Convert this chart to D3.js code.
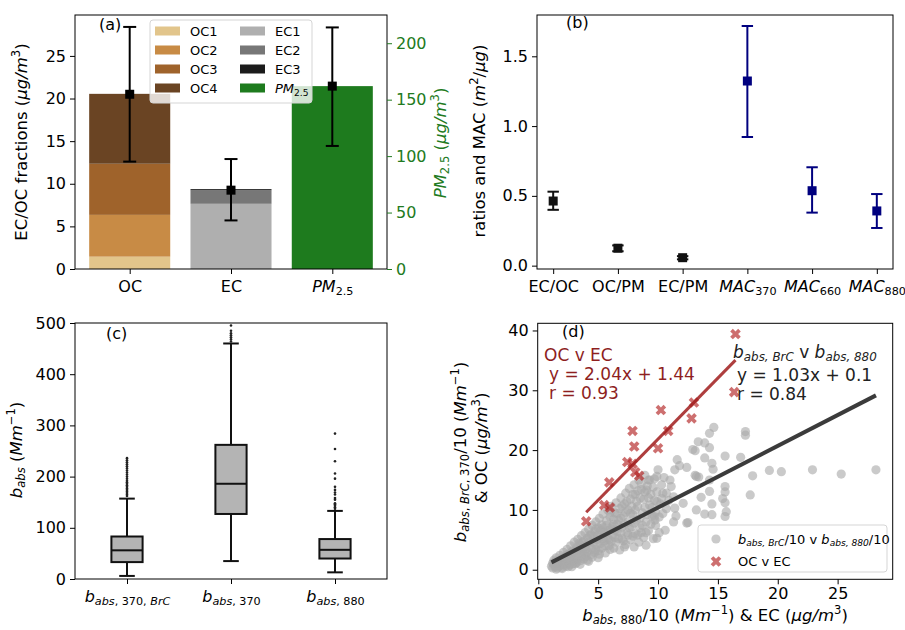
<!DOCTYPE html>
<html>
<head>
<meta charset="utf-8">
<script src="https://cdn.jsdelivr.net/npm/d3@7"></script>
<style>
  body { margin: 0; background: #fff; }
  text { font-family: "DejaVu Sans", sans-serif; white-space: pre; }
</style>
</head>
<body>
<div id="fig"></div>
<script>
// ---- panel (a): OC / EC fractions and PM2.5
const ocParts = ["OC1", "OC2", "OC3", "OC4"];
const ocVals = [1.45, 4.9, 6.0, 8.2];
const ocColors = ["#e2c58b", "#c88b45", "#9f632b", "#6a4423"];
const ecParts = ["EC1", "EC2", "EC3"];
const ecVals = [7.65, 1.6, 0.12];
const ecColors = ["#afafaf", "#777777", "#1b1b1b"];
const pmVal = 162;
const pmColor = "#1e7b1e";
const barMean = [20.5, 9.25, 162];
const barLow = [12.6, 5.7, 109];
const barHigh = [28.4, 12.9, 214];

// ---- panel (b): ratios and MAC
const ratioCats = ["EC/OC", "OC/PM", "EC/PM", "MAC370", "MAC660", "MAC880"];
const ratioMean = [0.463, 0.125, 0.057, 1.323, 0.537, 0.392];
const ratioLow = [0.40, 0.103, 0.045, 0.922, 0.38, 0.27];
const ratioHigh = [0.53, 0.145, 0.068, 1.717, 0.705, 0.513];

// ---- panel (c): absorption box plots
const boxLo = [6, 35, 13];
const boxQ1 = [33, 127, 40];
const boxMed = [56, 186, 57];
const boxQ3 = [83, 262, 78];
const boxHi = [157, 460, 133];
const fliersBrc = [162, 165, 168, 171, 174, 177, 180, 183, 186, 189, 192, 196, 200, 204, 208, 212, 216, 220, 224, 228, 232, 236];
const fliers370 = [464, 468, 472, 476, 480, 485, 495];
const fliers880 = [137, 140, 143, 146, 148, 155, 158, 165, 169, 174, 180, 196, 206, 230, 254, 284];

// ---- panel (d): scatter
const brcPoints = [
  [1.1,0.6],[1.2,1.1],[1.2,0.3],[1.3,1.6],[1.4,0.5],[1.5,1.0],[1.5,2.0],[1.6,0.3],[1.7,1.4],[1.8,0.7],
  [1.8,2.4],[1.9,1.1],[2.0,1.8],[2.0,0.4],[2.1,2.9],[2.2,1.2],[2.3,0.6],[2.3,2.2],[2.4,3.4],[2.5,1.5],
  [2.6,0.8],[2.6,2.7],[2.7,4.0],[2.8,1.9],[2.9,1.0],[2.9,3.2],[3.0,4.6],[3.1,2.3],[3.2,1.2],[3.2,3.7],
  [3.3,5.1],[3.4,2.7],[3.5,1.5],[3.5,4.2],[3.6,5.7],[3.7,3.1],[3.8,1.8],[3.8,4.8],[3.9,6.2],[4.0,3.5],
  [4.0,2.2],[4.1,5.3],[4.2,6.8],[4.3,4.0],[4.4,2.5],[4.4,5.9],[4.5,7.4],[4.6,4.5],[4.7,2.9],[4.7,6.4],
  [4.8,8.0],[4.9,5.0],[5.0,3.2],[5.0,7.0],[5.1,8.6],[5.2,5.5],[5.3,3.6],[5.3,7.5],[5.4,9.3],[5.5,4.8],
  [5.5,6.3],[5.6,2.8],[5.7,8.2],[5.8,10.0],[5.8,5.3],[5.9,4.0],[6.0,6.9],[6.0,8.8],[6.1,10.6],[6.2,5.8],
  [6.3,3.6],[6.3,7.6],[6.4,9.5],[6.5,11.2],[6.5,4.6],[6.6,6.4],[6.7,8.3],[6.8,10.2],[6.8,3.3],[6.9,12.0],
  [7.0,5.2],[7.0,7.1],[7.1,9.0],[7.2,11.0],[7.3,4.2],[7.3,12.8],[7.4,6.2],[7.5,8.0],[7.5,10.0],[7.6,13.6],
  [7.7,5.0],[7.7,11.8],[7.8,7.2],[7.9,9.2],[8.0,3.8],[8.0,14.2],[8.1,6.0],[8.1,12.6],[8.2,8.3],[8.3,10.6],
  [8.4,4.6],[8.4,15.0],[8.5,7.0],[8.6,13.4],[8.7,9.5],[8.8,5.4],[8.8,11.8],[8.9,15.8],[9.0,8.0],[9.0,4.1],
  [9.1,14.0],[9.2,6.5],[9.3,10.8],[9.4,12.6],[9.5,9.0],[9.6,5.2],[9.7,15.2],[9.8,7.4],[9.9,11.4],
  [1.3,0.9],[1.4,1.3],[1.6,1.1],[1.7,0.6],[1.9,1.7],[2.1,0.9],[2.2,2.0],[2.4,1.0],[2.4,2.5],[2.5,0.5],
  [2.7,1.4],[2.7,2.4],[2.8,3.0],[3.0,1.6],[3.0,3.0],[3.1,1.0],[3.3,2.0],[3.3,3.3],[3.4,4.4],[3.6,2.2],
  [3.6,3.6],[3.7,4.6],[3.9,2.8],[3.9,3.9],[4.1,1.6],[4.1,3.0],[4.2,4.6],[4.3,5.7],[4.5,2.1],[4.5,3.5],
  [4.6,5.6],[4.8,3.4],[4.8,6.8],[4.9,4.2],[5.0,5.8],[5.1,2.6],[5.2,4.4],[5.2,6.6],[5.4,5.2],[5.4,7.0],
  [5.6,4.0],[5.6,6.0],[5.7,7.4],[5.9,5.0],[5.9,6.6],[6.0,9.6],[6.1,4.8],[6.2,7.2],[6.3,8.4],[6.4,5.4],
  [6.4,6.6],[6.6,9.4],[6.6,7.6],[6.7,5.2],[6.9,6.2],[6.9,8.6],[7.0,10.6],[7.1,4.8],[7.2,7.6],[7.3,9.6],
  [7.4,11.4],[7.5,5.8],[7.6,7.0],[7.7,9.4],[7.8,10.6],[7.9,12.6],[7.9,5.6],[8.0,7.8],[8.1,10.0],[8.2,11.4],
  [8.3,13.2],[8.3,5.8],[8.5,8.6],[8.5,12.0],[8.6,14.4],[8.7,7.4],[8.9,10.4],[8.9,13.0],[9.0,6.2],[9.1,9.2],
  [9.2,12.0],[9.2,15.0],[9.4,7.6],[9.5,10.4],[9.6,13.8],[9.8,9.6],[9.9,13.0],[10.1,8.8],[10.2,11.0],[10.4,12.8],
  [10.1,6.2],[10.7,10.2],[10.9,11.6],[11.5,9.0],[10.5,15.4],[9.7,11.6],[8.6,6.2],[7.2,3.8],[6.0,3.4],[5.0,2.0],
  [4.2,1.4],[3.5,0.9],[2.8,0.5],[2.0,0.2],[1.5,0.1],
  [10.0,16.7],[9.9,15.6],[11.0,15.0],[10.3,14.2],[11.1,13.9],[10.7,12.8],[11.3,12.2],[10.3,11.9],[9.3,15.0],[9.05,13.3],
  [12.1,11.1],[11.4,10.3],[10.4,9.4],[9.74,8.3],[10.6,6.6],[11.3,8.0],[12.5,7.9],[9.9,5.25],[9.7,8.9],[12.4,7.8],
  [11.6,18.4],[11.8,17.4],[12.4,17.1],[11.4,16.7],[13.1,15.8],[13.4,15.5],[14.3,15.0],[13.2,15.6],[14.6,16.8],[14.5,17.8],
  [13.9,18.7],[15.6,19.0],[16.9,18.8],[12.9,20.1],[13.1,19.9],[14.3,20.4],[13.9,21.2],[13.36,21.4],[14.3,22.8],[14.66,23.8],
  [17.3,23.1],[17.3,22.5],[17.9,15.7],[19.3,16.6],[20.3,16.4],[22.9,16.7],[25.3,16.0],[28.2,16.7],[15.6,13.9],[15.6,13.0],
  [15.4,11.9],[15.6,11.2],[15.7,9.7],[15.6,8.9],[17.7,12.5],[14.3,13.1],[13.6,12.1],[14.5,11.0],[13.2,10.0],[13.9,9.3],
  [14.5,9.2]
];
const ocecPoints = [
  [4.0,8.1],[5.5,10.8],[5.93,14.6],[5.98,10.4],[7.43,18.0],[7.87,23.2],[8.01,20.6],[7.87,17.7],[8.1,16.3],
  [8.43,15.7],[10.0,20.3],[10.24,26.7],[10.85,23.2],[12.8,25.3],[13.0,27.95],[16.47,39.4],[16.36,29.7]
];
const fitSlope = [1.03, 2.04];
const fitIcept = [0.1, 1.44];
const fitR = [0.84, 0.93];

const fs = 16;
const svg = d3.select("#fig").append("svg")
    .attr("width", 905)
    .attr("height", 630);

// mathtext-like rich text: parts are [text, flags]; i = italic, _ = subscript, ^ = superscript
function rich(sel, parts, size) {
    let cur = 0;
    parts.forEach(([s, f = ""]) => {
        const small = f.includes("_") || f.includes("^");
        const target = f.includes("_") ? 0.2 * size : f.includes("^") ? -0.4 * size : 0;
        sel.append("tspan")
            .attr("dy", target - cur)
            .attr("font-size", small ? size * 0.7 : size)
            .attr("font-style", f.includes("i") ? "italic" : "normal")
            .text(s);
        cur = target;
    });
    return sel;
}

function frame(x0, x1, y0, y1) {
    svg.append("rect")
        .attr("x", x0).attr("y", y0)
        .attr("width", x1 - x0).attr("height", y1 - y0)
        .attr("fill", "none").attr("stroke", "#000").attr("stroke-width", 1);
}

function styleAxis(g, color = "#000") {
    g.select(".domain").remove();
    g.attr("font-size", fs).attr("font-family", "DejaVu Sans");
    g.selectAll(".tick line").attr("stroke", color);
    g.selectAll(".tick text").attr("fill", color);
}

function panelLabel(x, y, t) {
    svg.append("text").attr("x", x).attr("y", y).attr("font-size", fs).text(t);
}

function rotLabel(x, y, parts, color = "#000", size = 16.5) {
    const t = svg.append("text")
        .attr("transform", `translate(${x},${y}) rotate(-90)`)
        .attr("text-anchor", "middle")
        .attr("fill", color);
    rich(t, parts, size);
}

function catLabels(g, labels) {
    g.selectAll(".tick text").remove();
    g.selectAll(".tick").each(function (d, i) {
        const t = d3.select(this).append("text")
            .attr("y", 23)
            .attr("fill", "#000")
            .attr("text-anchor", "middle");
        rich(t, labels[i], fs);
    });
}

function errBar(g, x, lo, hi, mid, color, cap) {
    g.append("line").attr("x1", x).attr("x2", x).attr("y1", lo).attr("y2", hi)
        .attr("stroke", color).attr("stroke-width", 2);
    [lo, hi].forEach(v => g.append("line")
        .attr("x1", x - cap).attr("x2", x + cap).attr("y1", v).attr("y2", v)
        .attr("stroke", color).attr("stroke-width", 2));
    g.append("rect").attr("x", x - 4.5).attr("y", mid - 4.5)
        .attr("width", 9).attr("height", 9).attr("fill", color);
}

const mug = [["μg/m", "i"], ["3", "^"]];

// ================= panel (a)
const ax = d3.scaleLinear().domain([-0.54, 2.54]).range([75, 387]);
const ay = d3.scaleLinear().domain([0, 29.8]).range([269, 15]);
const ay2 = d3.scaleLinear().domain([0, 225]).range([269, 15]);
const bw = ax(0.4) - ax(0);

const gA = svg.append("g");
const ocTop = d3.cumsum(ocVals);
gA.selectAll("rect.oc").data(ocVals).join("rect")
    .attr("x", ax(0) - bw).attr("width", 2 * bw)
    .attr("y", (d, i) => ay(ocTop[i]))
    .attr("height", (d, i) => ay(ocTop[i] - d) - ay(ocTop[i]))
    .attr("fill", (d, i) => ocColors[i]);
const ecTop = d3.cumsum(ecVals);
gA.selectAll("rect.ec").data(ecVals).join("rect")
    .attr("x", ax(1) - bw).attr("width", 2 * bw)
    .attr("y", (d, i) => ay(ecTop[i]))
    .attr("height", (d, i) => ay(ecTop[i] - d) - ay(ecTop[i]))
    .attr("fill", (d, i) => ecColors[i]);
gA.append("rect")
    .attr("x", ax(2) - bw).attr("width", 2 * bw)
    .attr("y", ay2(pmVal)).attr("height", ay2(0) - ay2(pmVal))
    .attr("fill", pmColor);

barMean.forEach((m, i) => {
    const s = i === 2 ? ay2 : ay;
    errBar(gA, ax(i), s(barLow[i]), s(barHigh[i]), s(m), "#000", 6.5);
});

// legend (a)
const legA = svg.append("g");
legA.append("rect").attr("x", 150).attr("y", 20).attr("width", 162).attr("height", 83)
    .attr("rx", 3).attr("fill", "#fff").attr("fill-opacity", 0.8)
    .attr("stroke", "#d5d5d5");
const legItems = ocParts.map((p, i) => ({ lab: [[p]], col: ocColors[i], c: 0, r: i }))
    .concat(ecParts.map((p, i) => ({ lab: [[p]], col: ecColors[i], c: 1, r: i })))
    .concat([{ lab: [["PM", "i"], ["2.5", "_"]], col: pmColor, c: 1, r: 3 }]);
legItems.forEach(d => {
    const x = 155 + d.c * 85, y = 31 + d.r * 19;
    legA.append("rect").attr("x", x).attr("y", y - 4.5).attr("width", 25).attr("height", 9).attr("fill", d.col);
    const t = legA.append("text").attr("x", x + 35).attr("y", y + 5);
    rich(t, d.lab, 13);
});

frame(75, 387, 15, 269);
const axA = svg.append("g").attr("transform", "translate(75,0)")
    .call(d3.axisLeft(ay).tickValues([0, 5, 10, 15, 20, 25]).tickSize(5).tickPadding(4));
styleAxis(axA);
const axA2 = svg.append("g").attr("transform", "translate(387,0)")
    .call(d3.axisRight(ay2).tickValues([0, 50, 100, 150, 200]).tickSize(5).tickPadding(4));
styleAxis(axA2, "#217a21");
const axAx = svg.append("g").attr("transform", "translate(0,269)")
    .call(d3.axisBottom(ax).tickValues([0, 1, 2]).tickSize(5));
styleAxis(axAx);
catLabels(axAx, [[["OC"]], [["EC"]], [["PM", "i"], ["2.5", "_"]]]);
rotLabel(27, 142, [["EC/OC fractions ("]].concat(mug, [[")"]]));
rotLabel(446, 143, [["PM", "i"], ["2.5", "_"], [" ("]].concat(mug, [[")"]]), "#217a21");
panelLabel(99, 30, "(a)");

// ================= panel (b)
const bx = d3.scaleLinear().domain([-0.25, 5.25]).range([537, 893]);
const by = d3.scaleLinear().domain([-0.024, 1.796]).range([269, 15]);
const gB = svg.append("g");
ratioMean.forEach((m, i) => {
    errBar(gB, bx(i), by(ratioLow[i]), by(ratioHigh[i]), by(m), i < 3 ? "#111" : "#00007f", 5.7);
});
frame(537, 893, 15, 269);
const axB = svg.append("g").attr("transform", "translate(537,0)")
    .call(d3.axisLeft(by).tickValues([0, 0.5, 1, 1.5]).tickFormat(d3.format(".1f")).tickSize(5).tickPadding(4));
styleAxis(axB);
const axBx = svg.append("g").attr("transform", "translate(0,269)")
    .call(d3.axisBottom(bx).tickValues(d3.range(ratioCats.length)).tickSize(5));
styleAxis(axBx);
catLabels(axBx, ratioCats.map(c => c.startsWith("MAC") ? [["MAC", "i"], [c.slice(3), "_"]] : [[c]]));
rotLabel(485, 141, [["ratios and MAC ("], ["m", "i"], ["2", "^"], ["/"], ["μg", "i"], [")"]]);
panelLabel(566, 28, "(b)");

// ================= panel (c)
const cx = d3.scaleLinear().domain([0.5, 3.5]).range([75, 387]);
const cy = d3.scaleLinear().domain([0, 500]).range([579, 323]);
const gC = svg.append("g");
const fliers = [fliersBrc, fliers370, fliers880];
boxMed.forEach((m, i) => {
    const x = cx(i + 1), hw = cx(0.15) - cx(0), cw = cx(0.075) - cx(0);
    gC.append("line").attr("x1", x).attr("x2", x).attr("y1", cy(boxLo[i])).attr("y2", cy(boxQ1[i]))
        .attr("stroke", "#111").attr("stroke-width", 2);
    gC.append("line").attr("x1", x).attr("x2", x).attr("y1", cy(boxQ3[i])).attr("y2", cy(boxHi[i]))
        .attr("stroke", "#111").attr("stroke-width", 2);
    [boxLo[i], boxHi[i]].forEach(v => gC.append("line")
        .attr("x1", x - cw).attr("x2", x + cw).attr("y1", cy(v)).attr("y2", cy(v))
        .attr("stroke", "#111").attr("stroke-width", 2));
    gC.append("rect").attr("x", x - hw).attr("width", 2 * hw)
        .attr("y", cy(boxQ3[i])).attr("height", cy(boxQ1[i]) - cy(boxQ3[i]))
        .attr("fill", "#b4b4b4").attr("stroke", "#111").attr("stroke-width", 2);
    gC.append("line").attr("x1", x - hw).attr("x2", x + hw).attr("y1", cy(m)).attr("y2", cy(m))
        .attr("stroke", "#111").attr("stroke-width", 2);
    gC.selectAll(null).data(fliers[i]).join("circle")
        .attr("cx", x).attr("cy", d => cy(d)).attr("r", 1.3).attr("fill", "#222");
});
frame(75, 387, 323, 579);
const axC = svg.append("g").attr("transform", "translate(75,0)")
    .call(d3.axisLeft(cy).tickValues([0, 100, 200, 300, 400, 500]).tickSize(5).tickPadding(4));
styleAxis(axC);
const axCx = svg.append("g").attr("transform", "translate(0,579)")
    .call(d3.axisBottom(cx).tickValues([1, 2, 3]).tickSize(5));
styleAxis(axCx);
catLabels(axCx, [
    [["b", "i"], ["abs", "i_"], [", 370, ", "_"], ["BrC", "i_"]],
    [["b", "i"], ["abs", "i_"], [", 370", "_"]],
    [["b", "i"], ["abs", "i_"], [", 880", "_"]]
]);
rotLabel(22, 450, [["b", "i"], ["abs", "i_"], [" ("], ["Mm", "i"], ["−1", "^"], [")"]]);
panelLabel(106, 339, "(c)");

// ================= panel (d)
const dx = d3.scaleLinear().domain([-0.05, 29.6]).range([537.7, 892.7]);
const dy = d3.scaleLinear().domain([-1.6, 41.2]).range([579.3, 323.3]);
const gD = svg.append("g");
gD.selectAll("circle").data(brcPoints).join("circle")
    .attr("cx", d => dx(d[0])).attr("cy", d => dy(d[1])).attr("r", 4.6)
    .attr("fill", "#a9a9a9").attr("fill-opacity", 0.62);
const xMark = d3.symbol().type(d3.symbolCross).size(70);
gD.selectAll("path.oc").data(ocecPoints).join("path")
    .attr("d", xMark)
    .attr("transform", d => `translate(${dx(d[0])},${dy(d[1])}) rotate(45)`)
    .attr("fill", "#b22222").attr("fill-opacity", 0.65);
[brcPoints, ocecPoints].forEach((pts, k) => {
    const [x0, x1] = d3.extent(pts, d => d[0]);
    gD.append("line")
        .attr("x1", dx(x0)).attr("y1", dy(fitSlope[k] * x0 + fitIcept[k]))
        .attr("x2", dx(x1)).attr("y2", dy(fitSlope[k] * x1 + fitIcept[k]))
        .attr("stroke", k === 0 ? "#3b3b3b" : "#a01c1c")
        .attr("stroke-opacity", k === 0 ? 1 : 0.85)
        .attr("stroke-width", k === 0 ? 4 : 3);
});

// annotations
const red = "#8e1f1f";
svg.append("text").attr("x", 544).attr("y", 360.5).attr("font-size", 17).attr("fill", red).text("OC v EC");
svg.append("text").attr("x", 549).attr("y", 379.5).attr("font-size", 17).attr("fill", red)
    .text(`y = ${fitSlope[1]}x + ${fitIcept[1]}`);
svg.append("text").attr("x", 549).attr("y", 399).attr("font-size", 17).attr("fill", red)
    .text(`r = ${fitR[1]}`);
rich(svg.append("text").attr("x", 733).attr("y", 358).attr("fill", "#222"),
    [["b", "i"], ["abs, BrC", "i_"], [" v "], ["b", "i"], ["abs, 880", "i_"]], 17);
svg.append("text").attr("x", 737).attr("y", 380.5).attr("font-size", 17).attr("fill", "#222")
    .text(`y = ${fitSlope[0]}x + ${fitIcept[0]}`);
svg.append("text").attr("x", 737).attr("y", 399.5).attr("font-size", 17).attr("fill", "#222")
    .text(`r = ${fitR[0]}`);

// legend (d)
const legD = svg.append("g");
legD.append("rect").attr("x", 698).attr("y", 525).attr("width", 189).attr("height", 47)
    .attr("rx", 3).attr("fill", "#fff").attr("fill-opacity", 0.8).attr("stroke", "#d5d5d5");
legD.append("circle").attr("cx", 716).attr("cy", 539).attr("r", 4.6)
    .attr("fill", "#a9a9a9").attr("fill-opacity", 0.62);
rich(legD.append("text").attr("x", 738).attr("y", 543.5),
    [["b", "i"], ["abs, BrC", "i_"], ["/10 v "], ["b", "i"], ["abs, 880", "i_"], ["/10"]], 13);
legD.append("path").attr("d", xMark)
    .attr("transform", "translate(716,561.5) rotate(45)")
    .attr("fill", "#b22222").attr("fill-opacity", 0.65);
legD.append("text").attr("x", 738).attr("y", 566).attr("font-size", 13).text("OC v EC");

frame(537.7, 892.7, 323.3, 579.3);
const axD = svg.append("g").attr("transform", "translate(537.7,0)")
    .call(d3.axisLeft(dy).tickValues([0, 10, 20, 30, 40]).tickSize(5).tickPadding(4));
styleAxis(axD);
const axDx = svg.append("g").attr("transform", "translate(0,579.3)")
    .call(d3.axisBottom(dx).tickValues([0, 5, 10, 15, 20, 25]).tickSize(5).tickPadding(3));
styleAxis(axDx);
axDx.selectAll(".tick text").attr("fill", "#000");
rotLabel(466, 452, [["b", "i"], ["abs", "i_"], [", ", "_"], ["BrC", "i_"], [", 370", "_"], ["/10 ("], ["Mm", "i"], ["−1", "^"], [")"]]);
rotLabel(487, 448, [["& OC ("]].concat(mug, [[")"]]));
rich(svg.append("text").attr("x", 715).attr("y", 621).attr("text-anchor", "middle"),
    [["b", "i"], ["abs", "i_"], [", 880", "_"], ["/10 ("], ["Mm", "i"], ["−1", "^"], [") & EC ("]].concat(mug, [[")"]]), 16.5);
panelLabel(562, 337, "(d)");
</script>
</body>
</html>
